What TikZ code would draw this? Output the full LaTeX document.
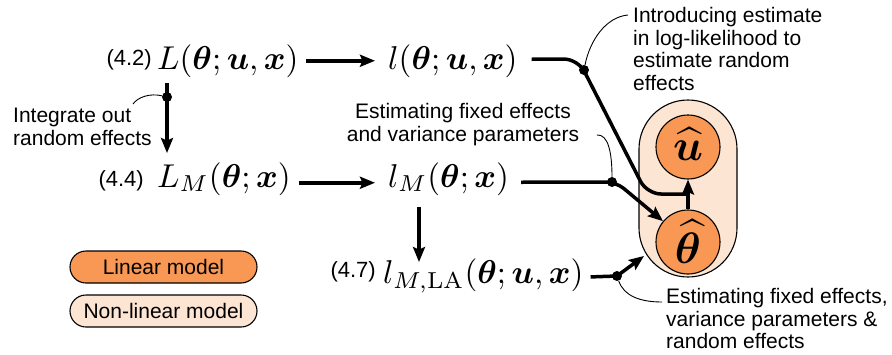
\documentclass[tikz,border=0pt]{standalone}
\usepackage{fontspec}
\usepackage{amsmath}
\usepackage{bm}
\usepackage{graphicx}
\newfontfamily\sansf{Liberation Sans}
\usetikzlibrary{calc,arrows.meta}
\definecolor{orangeA}{RGB}{249,152,84}
\definecolor{peachA}{RGB}{253,229,212}
\newcommand{\mthbig}[1]{\scalebox{3.3}{$#1$}}
\newcommand{\mthhuge}[1]{\scalebox{4.4}{$#1$}}
\begin{document}
\begin{tikzpicture}[x=1pt,y=-1pt,
  thickline/.style={line width=3.5pt},
  arr/.style={line width=3.5pt,-{Stealth[length=15pt,width=12pt,inset=2.5pt]}},
  thinline/.style={line width=0.9pt},
  dotnode/.style={circle,fill=black,inner sep=0pt,minimum size=10pt},
  mathnode/.style={inner sep=0pt,anchor=base west},
  eqlab/.style={inner sep=0pt,anchor=east,font=\sansf\fontsize{22}{24}\selectfont},
  note/.style={inner sep=0pt,font=\sansf\fontsize{21}{22.7}\selectfont},
  legend/.style={draw,line width=1.1pt,rounded corners=16pt,minimum width=187pt,
    minimum height=32pt,inner sep=0pt,font=\sansf\fontsize{21}{24}\selectfont},
  est/.style={circle,draw,line width=1.1pt,fill=orangeA,minimum size=64pt,inner sep=0pt},
]
\useasboundingbox (0,0) rectangle (892,354);

% equations
\node[mathnode] (L) at (157,69) {\mthbig{L(\bm{\theta};\bm{u},\bm{x})}};
\node[eqlab] (e42) at (152,60) {(4.2)};
\node[mathnode] (l) at (388,69) {\mthbig{l(\bm{\theta};\bm{u},\bm{x})}};
\node[mathnode] (LM) at (157,187) {\mthbig{L_M(\bm{\theta};\bm{x})}};
\node[eqlab] (e44) at (144,181) {(4.4)};
\node[mathnode] (lM) at (388,187) {\mthbig{l_M(\bm{\theta};\bm{x})}};
\node[mathnode] (lLA) at (383,283) {\mthbig{l_{M,\mathrm{LA}}(\bm{\theta};\bm{u},\bm{x})}};
\node[eqlab] (e47) at (376,272) {(4.7)};

% estimates container
\node[draw,line width=1.1pt,fill=peachA,rounded corners=49pt,minimum width=98pt,
  minimum height=177pt,inner sep=0pt] (box) at (688,188.5) {};
\node[est] (u) at (688,147) {\raisebox{6pt}{\mthhuge{\widehat{\bm{u}}}}};
\node[est] (th) at (688,242) {\raisebox{1pt}{\mthhuge{\widehat{\bm{\theta}}}}};

% legend
\node[legend,fill=orangeA] (lin) at (163.5,267) {Linear model};
\node[legend,fill=peachA] (nonlin) at (163.5,311) {Non-linear model};

% notes
\node[note,anchor=north west,align=left] (n1) at (633,7)
  {Introducing estimate\\in log-likelihood to\\estimate random\\effects};
\node[note,anchor=north,align=center] (n2) at (463,103)
  {Estimating fixed effects\\and variance parameters};
\node[note,anchor=north west,align=left] (n3) at (666,288)
  {Estimating fixed effects,\\variance parameters \&\\random effects};
\node[note,anchor=north west,align=left] (n4) at (13,108)
  {Integrate out\\random effects};

% coordinates
\coordinate (j1) at (688,194);
\coordinate (c3) at (644,256);
\coordinate (a1) at (628,15);
\coordinate (a2) at (597,135);
\coordinate (a3) at (662,302);
\coordinate (a4) at (133,104);

% main connectors
\draw[arr,shorten <=7pt,shorten >=13pt] (L) -- (l);
\draw[arr] ($(LM.east)+(8,4)$) -- ($(lM.west)+(-13,4)$);
\draw[arr] ($(L.south west)+(10,6)$) -- ($(LM.north west)+(10,-9)$);
\draw[arr] ($(lM.south west)+(31,12)$) -- ($(lLA.north west)+(36,4)$);
\draw[thickline,rounded corners=14pt] ($(l.east)+(14,-1.5)$) -- (578,59) -- (647,194) -- (j1);
\draw[arr,rounded corners=10pt] ($(lM.east)+(12,3.5)$) -- (616,182) -- (th);
\draw[arr,rounded corners=3pt] ($(lLA.east)+(7,1.5)$) -- (617,276) -- (c3);
\draw[arr] (th) -- (u);

% dots
\node[dotnode] (d0) at (167,97) {};
\node[dotnode] (d1) at (584,70) {};
\node[dotnode] (d2) at (612,182) {};
\node[dotnode] (d3) at (617,276) {};

% annotation curves
\draw[thinline] (d0) .. controls (150,93) and (138,97) .. (a4);
\draw[thinline] (d1) .. controls (590,40) and (606,17) .. (a1);
\draw[thinline] (a2) .. controls (608,134) and (612,152) .. (d2);
\draw[thinline] (d3) .. controls (624,296) and (640,302) .. (a3);
\end{tikzpicture}
\end{document}
